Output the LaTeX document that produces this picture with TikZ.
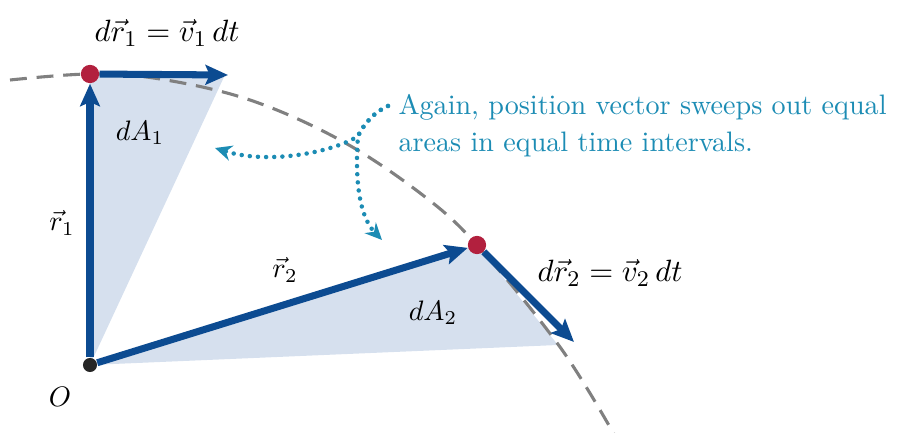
\documentclass[tikz,border=0pt]{standalone}
\usepackage{amsmath}
\usetikzlibrary{arrows.meta}

\definecolor{vecblue}{RGB}{12,75,145}
\definecolor{areablue}{RGB}{214,224,238}
\definecolor{bodyred}{RGB}{178,32,62}
\definecolor{noteteal}{RGB}{28,140,180}
\definecolor{orbitgray}{RGB}{128,128,128}

\begin{document}
\begin{tikzpicture}[
    x=0.0125cm, y=-0.0125cm,
    >={Stealth[length=8pt,width=7pt,inset=1.5pt]},
    vec/.style={->, vecblue, line width=2.5pt},
    orbit/.style={orbitgray, line width=1.1pt, dash pattern=on 6pt off 3.5pt},
    hint/.style={noteteal, line width=1.6pt, line cap=round,
      dash pattern=on 0pt off 2.9pt, -{Stealth[length=6pt,width=5.5pt]}},
    body/.style={circle, fill=bodyred, inner sep=0pt, minimum size=6.5pt},
    origin/.style={circle, fill=black!85, inner sep=0pt, minimum size=5pt},
    lbl/.style={inner sep=0pt, font=\fontsize{10}{12}\selectfont},
    eqn/.style={inner sep=0pt, font=\fontsize{11}{13}\selectfont},
  ]
  \useasboundingbox (0,0) rectangle (904,433);

  % Positions
  \coordinate (o) at (90,365);
  \coordinate (p1) at (90,74);
  \coordinate (p2) at (477,245);
  \coordinate (q1) at (228,75);
  \coordinate (q2) at (574,342);

  % Swept areas
  \fill[areablue] (o)--(p1)--(224,77)--cycle;
  \fill[areablue] (o)--(p2)--(558,345)--cycle;

  % Orbit
  \draw[orbit] plot[smooth, tension=0.6] coordinates {(10,80) (90,74)
    (160,79) (250,100) (340,140) (420,193) (477,245) (560,347) (615,436)};

  % Bodies
  \node[origin] (O) at (o) {};
  \node[body] (P1) at (p1) {};
  \node[body] (P2) at (p2) {};

  % Vectors
  \draw[vec] (O) -- (P1);
  \draw[vec] (P1) -- (q1);
  \draw[vec] (O) -- (P2);
  \draw[vec] (P2) -- (q2);

  % Labels
  \node[eqn] (dr1) at (167,33) {$d\vec{r}_1 = \vec{v}_1\,dt$};
  \node[eqn] (dr2) at (610,273) {$d\vec{r}_2 = \vec{v}_2\,dt$};
  \node[lbl] (da1) at (140,133) {$dA_1$};
  \node[lbl] (da2) at (433,313) {$dA_2$};
  \node[lbl] (r1) at (62,223) {$\vec{r}_1$};
  \node[lbl] (r2) at (285,270) {$\vec{r}_2$};
  \node[lbl] (olbl) at (60,397) {$O$};

  % Note
  \node[anchor=north west, inner sep=0pt, align=left, text=noteteal,
    font=\fontsize{10}{13.2}\selectfont] (note) at (398,94)
    {Again, position vector sweeps out equal\\areas in equal time intervals.};
  \coordinate (from) at (388,106);
  \coordinate (fork) at (358,136);
  \coordinate (tip1) at (215,148);
  \coordinate (tip2) at (382,240);
  \draw[hint] (from) .. controls (374,112) and (364,124) .. (fork)
    .. controls (338,150) and (272,166) .. (tip1);
  \draw[hint] (from) .. controls (374,112) and (364,124) .. (fork)
    .. controls (355,175) and (358,215) .. (tip2);
\end{tikzpicture}
\end{document}
